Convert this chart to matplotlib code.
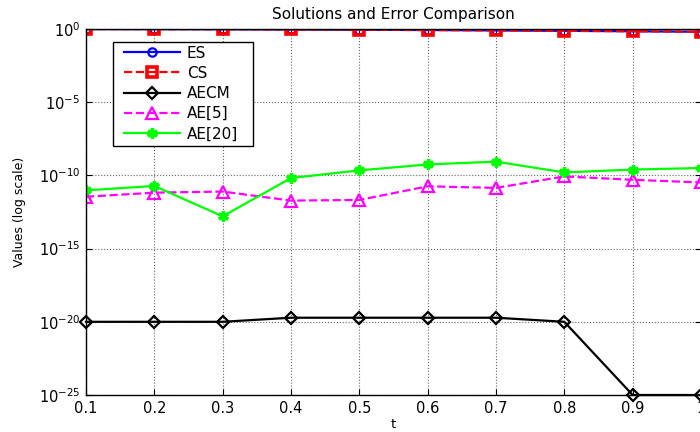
import numpy as np
import matplotlib
matplotlib.use('Agg')
import matplotlib.pyplot as plt
from matplotlib.patches import Rectangle
from matplotlib.ticker import FixedLocator, FormatStrFormatter, NullLocator

# ============================================================================
# DATA
# ============================================================================
t = [0.1, 0.2, 0.3, 0.4, 0.5, 0.6, 0.7, 0.8, 0.9, 1.0]

es = [0.99, 0.98, 0.96, 0.93, 0.89, 0.85, 0.80, 0.75, 0.70, 0.65]
cs = [0.99, 0.98, 0.96, 0.93, 0.89, 0.85, 0.80, 0.75, 0.70, 0.65]
aecm = [1.0e-20, 1.0e-20, 1.0e-20, 1.9e-20, 1.9e-20, 1.9e-20, 1.9e-20, 1.0e-20, 1.0e-25, 1.0e-25]
ae5 = [3.5e-12, 6.6e-12, 7.9e-12, 1.9e-12, 2.1e-12, 1.8e-11, 1.4e-11, 8.5e-11, 5.0e-11, 3.3e-11]
ae20 = [9.5e-12, 1.9e-11, 1.6e-13, 6.6e-11, 2.2e-10, 5.6e-10, 8.7e-10, 1.6e-10, 2.5e-10, 3.2e-10]

yticks = [1e-25, 1e-20, 1e-15, 1e-10, 1e-5, 1e0]

# ============================================================================
# STYLE
# ============================================================================
plt.rcParams['font.family'] = ['DejaVu Sans']
plt.rcParams['mathtext.fontset'] = 'dejavusans'
plt.rcParams['axes.unicode_minus'] = False

fig = plt.figure(figsize=(7.0, 4.32), dpi=100)
ax = fig.add_axes([86 / 700, 37 / 432, 615 / 700, 366 / 432])

lw = 1.6
ax.plot(t, es, '-o', color='blue', lw=lw, ms=6, mfc='none', mew=lw, label='ES')
ax.plot(t, cs, '--s', color='red', lw=lw, ms=7.5, mfc='none', mew=2.6, label='CS')
ax.plot(t, aecm, '-D', color='black', lw=lw, ms=6.5, mfc='none', mew=lw, label='AECM',
        clip_on=False)
ax.plot(t, ae5, '--^', color='magenta', lw=lw, ms=9, mfc='none', mew=lw, label='AE[5]')
ax.plot(t, ae20, '-', color=(0, 1, 0), lw=lw, marker=(6, 2, 0), ms=7.5, mew=2.4,
        label='AE[20]')

ax.set_yscale('log')
ax.set_xlim(0.1, 1.0)
ax.set_ylim(1e-25, 1e0)
ax.yaxis.set_major_locator(FixedLocator(yticks))
ax.yaxis.set_minor_locator(NullLocator())
ax.set_xticks(t)
ax.xaxis.set_major_formatter(FormatStrFormatter('%g'))

ax.grid(True, which='major', color='#666666', linestyle=':', linewidth=0.8)
ax.tick_params(direction='in', length=4, width=0.8, top=True, right=True,
               labelsize=10.5, pad=4)
for s in ax.spines.values():
    s.set_linewidth(1.0)

ax.set_title('Solutions and Error Comparison', fontsize=11, pad=7)
ax.set_xlabel('t', fontsize=9.5, labelpad=2)
ax.set_ylabel('Values (log scale)', fontsize=9, labelpad=9)

# legend without its own frame; box drawn separately to get MATLAB-like padding
leg = ax.legend(loc='upper left', bbox_to_anchor=(0.0618, 0.9546), borderaxespad=0,
                fontsize=11, handlelength=3.66, labelspacing=0.34, handletextpad=0.45,
                borderpad=0, frameon=False)
leg.set_zorder(6)
ax.add_patch(Rectangle((0.0439, 0.680), 0.2276, 0.2845, transform=ax.transAxes,
                       facecolor='white', edgecolor='black', lw=1.0, zorder=5))

plt.savefig('out.png', dpi=100)
